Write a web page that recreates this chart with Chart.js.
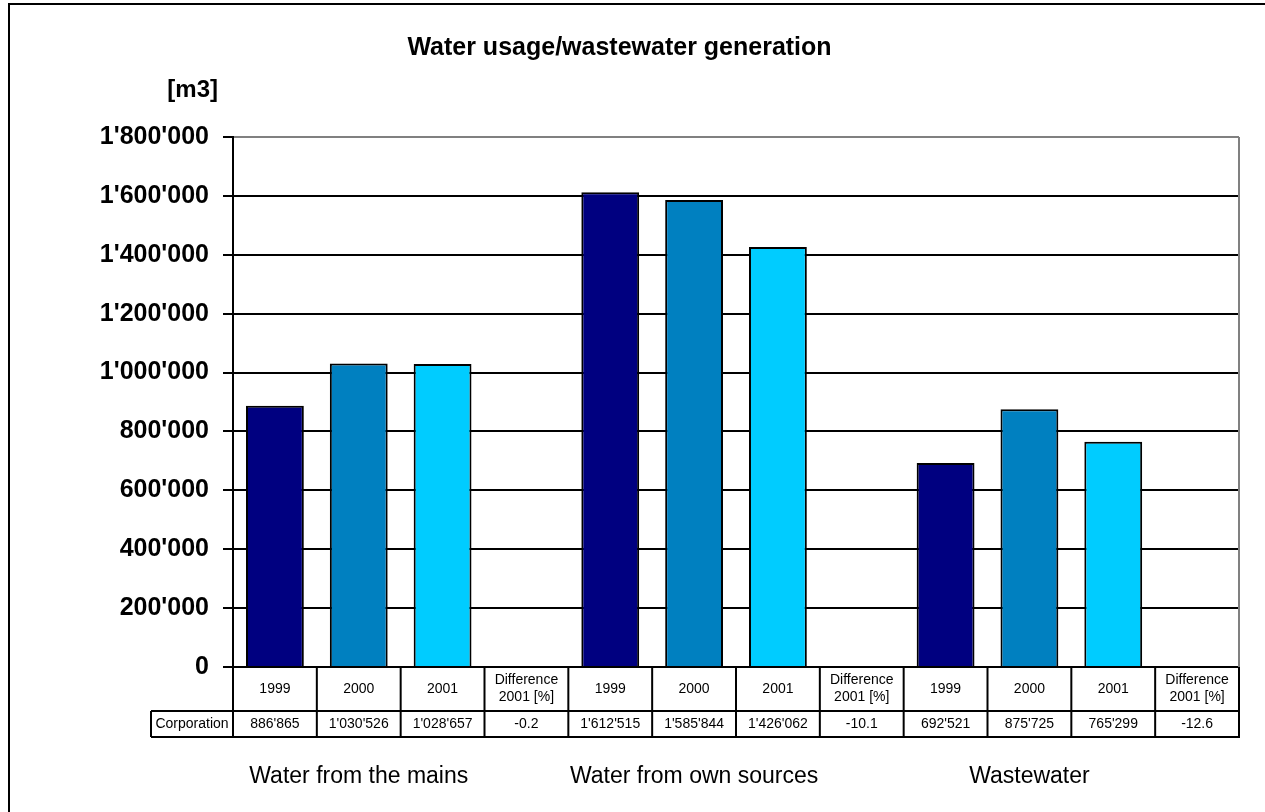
<!DOCTYPE html>
<html>
<head>
<meta charset="utf-8">
<script src="https://cdn.jsdelivr.net/npm/chart.js@4"></script>
<style>
  body { margin: 0; background: #fff; }
  #wrap { position: relative; width: 1265px; height: 812px; overflow: hidden; }
  #frame { position: absolute; left: 8px; top: 3px; width: 1300px; height: 900px;
           border-left: 2px solid #000; border-top: 2px solid #000; }
  canvas { position: absolute; left: 0; top: 0; }
</style>
</head>
<body>
<div id="wrap">
  <div id="frame"></div>
  <canvas id="chart" width="1265" height="812"></canvas>
</div>
<script>
// data
const groups = ['Water from the mains', 'Water from own sources', 'Wastewater'];
const columns = ['1999', '2000', '2001', 'Difference\n2001 [%]'];
const rowLabel = 'Corporation';
const mains = [886865, 1030526, 1028657];
const ownSources = [1612515, 1585844, 1426062];
const wastewater = [692521, 875725, 765299];
const difference = [-0.2, -10.1, -12.6];
const yearColors = ['#000080', '#0080C0', '#00CCFF'];
const yTicks = [0, 200000, 400000, 600000, 800000, 1000000, 1200000, 1400000, 1600000, 1800000];

function fmt(n) {
  return String(n).replace(/\B(?=(\d{3})+(?!\d))/g, "'");
}

// build the 12 categories (4 per group), difference columns have no bar
const series = [mains, ownSources, wastewater];
const labels = [];
const values = [];
const colors = [];
const tableText = [];
series.forEach((s, g) => {
  columns.forEach((c, i) => {
    labels.push(c);
    values.push(i < 3 ? s[i] : null);
    colors.push(i < 3 ? yearColors[i] : 'rgba(0,0,0,0)');
    tableText.push(i < 3 ? fmt(s[i]) : String(difference[g]));
  });
});

const FONT = "'Liberation Sans', Arial, sans-serif";
Chart.defaults.font.family = FONT;
Chart.defaults.color = '#000';

// table under the axis, group names and the unit label
const extras = {
  id: 'extras',
  afterDraw(chart) {
    const ctx = chart.ctx;
    const area = chart.chartArea;
    const x = chart.scales.x;
    const w = x.width / labels.length;
    const top = area.bottom;
    const headH = 44;
    const rowH = 26;
    const leftCell = 151;

    ctx.save();
    // right border of the plot
    ctx.strokeStyle = '#808080';
    ctx.lineWidth = 2;
    ctx.beginPath();
    ctx.moveTo(area.right, area.top);
    ctx.lineTo(area.right, area.bottom);
    ctx.stroke();

    // table grid
    ctx.strokeStyle = '#000';
    ctx.beginPath();
    ctx.moveTo(leftCell, top + headH);
    ctx.lineTo(area.right + 1, top + headH);
    ctx.moveTo(leftCell, top + headH + rowH);
    ctx.lineTo(area.right + 1, top + headH + rowH);
    ctx.moveTo(leftCell, top + headH);
    ctx.lineTo(leftCell, top + headH + rowH);
    for (let i = 0; i <= labels.length; i++) {
      const px = x.getPixelForValue(i) - w / 2;
      ctx.moveTo(px, top);
      ctx.lineTo(px, top + headH + rowH);
    }
    ctx.stroke();

    // table text
    ctx.fillStyle = '#000';
    ctx.font = '14px ' + FONT;
    ctx.textAlign = 'center';
    ctx.textBaseline = 'middle';
    labels.forEach((lab, i) => {
      const cx = x.getPixelForValue(i);
      const lines = lab.split('\n');
      const lh = 17;
      lines.forEach((ln, k) => {
        ctx.fillText(ln, cx, top + headH / 2 + (k - (lines.length - 1) / 2) * lh);
      });
      ctx.fillText(tableText[i], cx, top + headH + rowH / 2);
    });
    ctx.fillText(rowLabel, (leftCell + area.left) / 2, top + headH + rowH / 2);

    // group names, under the 2000 column of each group
    ctx.font = '23px ' + FONT;
    ctx.textBaseline = 'alphabetic';
    groups.forEach((g, k) => {
      ctx.fillText(g, x.getPixelForValue(k * 4 + 1), 783);
    });

    // unit
    ctx.font = 'bold 24px ' + FONT;
    ctx.textAlign = 'right';
    ctx.fillText('[m3]', 218, 97);
    ctx.restore();
  }
};

const ctx = document.getElementById('chart').getContext('2d');
new Chart(ctx, {
  type: 'bar',
  data: {
    labels: labels,
    datasets: [{
      data: values,
      backgroundColor: colors,
      borderColor: '#000',
      borderWidth: 2,
      categoryPercentage: 1,
      barPercentage: 0.69
    }]
  },
  options: {
    responsive: false,
    animation: false,
    layout: { padding: { left: 0, right: 26, top: 0, bottom: 0 } },
    plugins: {
      legend: { display: false },
      tooltip: { enabled: false },
      title: {
        display: true,
        text: 'Water usage/wastewater generation',
        color: '#000',
        font: { size: 25, weight: 'bold' },
        padding: { top: 33, bottom: 74 }
      }
    },
    scales: {
      x: {
        grid: { display: false },
        border: { display: false },
        ticks: { display: false },
        afterFit(s) { s.height = 145; }
      },
      y: {
        min: 0,
        max: 1800000,
        afterBuildTicks(s) { s.ticks = yTicks.map(v => ({ value: v })); },
        ticks: {
          color: '#000',
          padding: 14,
          font: { size: 25, weight: 'bold' },
          callback: v => fmt(v)
        },
        grid: {
          color: c => (c.tick && c.tick.value === 1800000) ? '#808080' : '#000',
          lineWidth: 2,
          tickLength: 10,
          tickColor: '#000'
        },
        border: { color: '#000', width: 2 },
        afterFit(s) { s.width = 233; }
      }
    }
  },
  plugins: [extras]
});
</script>
</body>
</html>
